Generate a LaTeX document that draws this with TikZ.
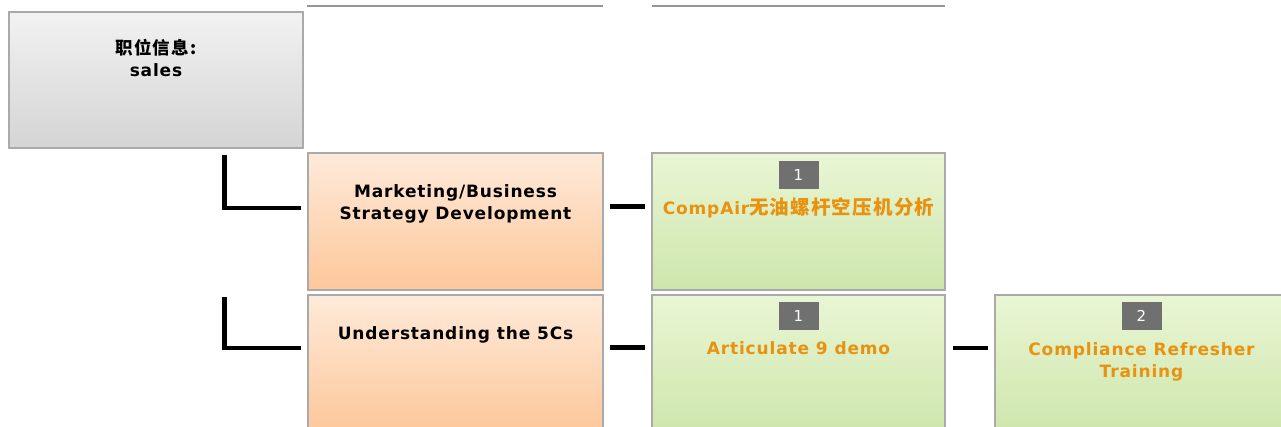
\documentclass[tikz,border=0pt]{standalone}
\usepackage{fontspec}
\setmainfont{DejaVu Sans}
\newfontfamily\lbl{DejaVu Sans}[LetterSpace=5]
\newfontfamily\cjk{Noto Sans CJK SC}[LetterSpace=6]
\usetikzlibrary{calc}
\definecolor{bordergray}{RGB}{170,170,170}
\definecolor{topline}{RGB}{150,150,150}
\definecolor{graytop}{RGB}{242,242,242}
\definecolor{graybot}{RGB}{212,212,212}
\definecolor{orangetop}{RGB}{254,234,218}
\definecolor{orangebot}{RGB}{253,199,154}
\definecolor{greentop}{RGB}{233,246,212}
\definecolor{greenbot}{RGB}{206,230,172}
\definecolor{badgegray}{RGB}{112,112,112}
\definecolor{actorange}{RGB}{232,146,16}
\tikzset{
  box/.style={draw=bordergray, line width=1.2pt, minimum width=295pt, minimum height=137pt, inner sep=0pt, shading=axis},
  graybox/.style={box, minimum width=294pt, minimum height=136pt, top color=graytop, bottom color=graybot},
  skillbox/.style={box, top color=orangetop, bottom color=orangebot},
  actbox/.style={box, minimum width=293pt, top color=greentop, bottom color=greenbot},
  badge/.style={fill=badgegray, minimum width=40pt, minimum height=28pt, inner sep=0pt, text=white, font=\fontsize{15}{16}\selectfont},
  title/.style={inner sep=0pt, align=center, font=\lbl\bfseries\fontsize{17}{22}\selectfont, anchor=base},
  acttitle/.style={title, text=actorange},
  conn/.style={line width=4.5pt, black},
  topedge/.style={line width=2pt, topline}
}
\begin{document}
\begin{tikzpicture}[x=1pt,y=1pt]
\useasboundingbox (0,0) rectangle (1281,-427);
% top edges of boxes above (cut off)
\draw[topedge] (307,-6.5) -- (603,-6.5);
\draw[topedge] (652,-6.5) -- (945,-6.5);
% position box
\node[graybox] (pos) at (156,-80) {};
\node[title] (postext) at ($(pos.north)+(0,-65)$) {{\cjk\bfseries\fontsize{17.5}{22}\selectfont 职位信息:}\\sales};
% row 1
\node[skillbox] (s1) at (455.5,-221.5) {};
\node[title] (s1t) at ($(s1.north)+(0,-67)$) {Marketing/Business\\Strategy Development};
\node[actbox] (a1) at (798.5,-221.5) {};
\node[badge] (b1) at ($(a1.north)+(0,-23)$) {1};
\node[acttitle] (a1t) at ($(a1.north)+(0,-62)$) {CompAir{\cjk\bfseries\fontsize{19.5}{22}\selectfont 无油螺杆空压机分析}};
% row 2
\node[skillbox] (s2) at (455.5,-363.5) {};
\node[title] (s2t) at ($(s2.north)+(0,-45)$) {Understanding the 5Cs};
\node[actbox] (a2) at (798.5,-363.5) {};
\node[badge] (b2) at ($(a2.north)+(0,-22)$) {1};
\node[acttitle] (a2t) at ($(a2.north)+(0,-60)$) {Articulate 9 demo};
\node[actbox] (a3) at (1141.5,-363.5) {};
\node[badge] (b3) at ($(a3.north)+(0,-22)$) {2};
\node[acttitle] (a3t) at ($(a3.north)+(0,-83)$) {Compliance Refresher\\Training};
% connectors
\coordinate (l1) at (224.5,-155);
\coordinate (l2) at (224.5,-297);
\draw[conn] (l1) |- ([shift={(-6,13.5)}]s1.west);
\draw[conn] (l2) |- ([shift={(-6,15.5)}]s2.west);
\draw[conn] ([shift={(6,15)}]s1.east) -- ([shift={(-6,15)}]a1.west);
\draw[conn] ([shift={(6,16)}]s2.east) -- ([shift={(-6,16)}]a2.west);
\draw[conn] ([shift={(7,15.5)}]a2.east) -- ([shift={(-6,15.5)}]a3.west);
\end{tikzpicture}
\end{document}
